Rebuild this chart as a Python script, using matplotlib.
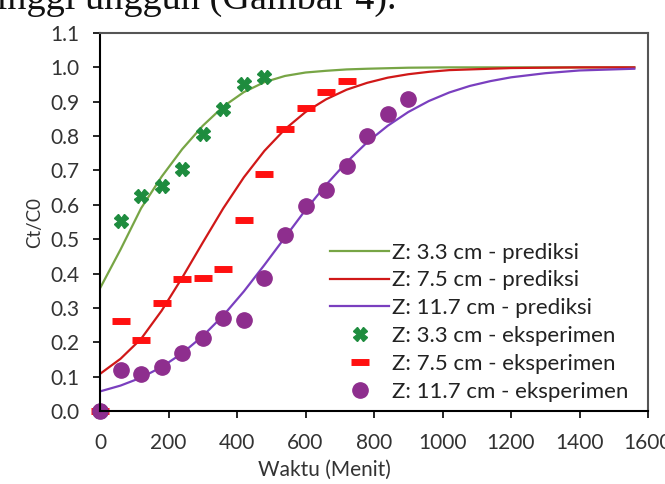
import matplotlib
matplotlib.use("Agg")
import matplotlib.pyplot as plt

# prediction curves
t_pred_g = [0, 60, 120, 180, 240, 300, 360, 420, 480, 540, 600, 660, 720, 780, 900, 1020, 1200, 1400, 1560]
y_pred_g = [0.357, 0.470, 0.590, 0.682, 0.762, 0.830, 0.886, 0.928, 0.957, 0.975, 0.985, 0.990, 0.994, 0.996, 0.999, 1.0, 1.0, 1.0, 1.0]

t_pred_r = [0, 60, 120, 180, 240, 300, 360, 420, 480, 540, 600, 660, 720, 780, 840, 900, 960, 1020, 1200, 1400, 1560]
y_pred_r = [0.108, 0.152, 0.210, 0.292, 0.388, 0.490, 0.590, 0.680, 0.757, 0.820, 0.870, 0.907, 0.935, 0.955, 0.970, 0.980, 0.987, 0.992, 0.998, 1.0, 1.0]

t_pred_p = [0, 60, 120, 180, 240, 300, 360, 420, 480, 540, 600, 660, 720, 780, 840, 900, 960, 1020, 1080, 1140, 1200, 1300, 1400, 1560]
y_pred_p = [0.057, 0.074, 0.097, 0.128, 0.168, 0.218, 0.278, 0.348, 0.425, 0.505, 0.585, 0.658, 0.724, 0.782, 0.830, 0.870, 0.902, 0.927, 0.946, 0.960, 0.971, 0.983, 0.991, 0.996]

# experimental points
t_exp_g = [0, 60, 120, 180, 240, 300, 360, 420, 480]
y_exp_g = [0, 0.552, 0.626, 0.654, 0.705, 0.807, 0.880, 0.951, 0.972]

t_exp_r = [0, 60, 120, 180, 240, 300, 360, 420, 480, 540, 600, 660, 720]
y_exp_r = [0, 0.262, 0.206, 0.315, 0.383, 0.388, 0.412, 0.557, 0.691, 0.820, 0.882, 0.927, 0.960]

t_exp_p = [0, 60, 120, 180, 240, 300, 360, 420, 480, 540, 600, 660, 720, 780, 840, 900]
y_exp_p = [0, 0.119, 0.108, 0.129, 0.170, 0.211, 0.271, 0.265, 0.386, 0.512, 0.596, 0.644, 0.714, 0.799, 0.865, 0.909]

x_ticks = [0, 200, 400, 600, 800, 1000, 1200, 1400, 1600]
y_ticks = [0.0, 0.1, 0.2, 0.3, 0.4, 0.5, 0.6, 0.7, 0.8, 0.9, 1.0, 1.1]

plt.rcParams['font.family'] = ['Lato', 'DejaVu Sans']

fig = plt.figure(figsize=(6.65, 4.84), dpi=100)
ax = fig.add_axes([100 / 665, 1 - 411 / 484, 548 / 665, 378 / 484])

ax.plot(t_pred_g, y_pred_g, color='#77A545', lw=1.6, label='Z: 3.3 cm - prediksi')
ax.plot(t_pred_r, y_pred_r, color='#D01818', lw=1.6, label='Z: 7.5 cm - prediksi')
ax.plot(t_pred_p, y_pred_p, color='#7A3FBF', lw=1.6, label='Z: 11.7 cm - prediksi')

ax.plot(t_exp_g, y_exp_g, ls='none', marker='X', ms=9.5, color='#1E8C3E', mec='#1E8C3E',
        clip_on=False, label='Z: 3.3 cm - eksperimen')
ax.plot(t_exp_r, y_exp_r, ls='none', marker='_', ms=13, mew=5, color='#FF1010',
        clip_on=False, label='Z: 7.5 cm - eksperimen')
ax.plot(t_exp_p, y_exp_p, ls='none', marker='o', ms=11, color='#8E2E8E', mec='#8E2E8E',
        clip_on=False, label='Z: 11.7 cm - eksperimen')

ax.set_xlim(0, 1600)
ax.set_ylim(0, 1.1)
ax.set_xticks(x_ticks)
ax.set_yticks(y_ticks)
ax.set_yticklabels([f'{v:.1f}' for v in y_ticks])
ax.tick_params(axis='both', direction='out', length=5, width=1.2, labelsize=15,
               colors='#000000', labelcolor='#333333')
ax.tick_params(axis='y', pad=10)
ax.tick_params(axis='x', pad=11)

for s in ['left', 'bottom']:
    ax.spines[s].set_color('#000000')
    ax.spines[s].set_linewidth(1.5)
for s in ['top', 'right']:
    ax.spines[s].set_color('#555555')
    ax.spines[s].set_linewidth(1.5)

fig.text(35 / 665, 1 - 222 / 484, 'Ct/C0', fontsize=13.5, color='#333333',
         rotation=90, ha='center', va='center')
fig.text(324 / 665, 1 - 470 / 484, 'Waktu (Menit)', fontsize=15, color='#333333',
         ha='center', va='center')

ax.legend(loc='lower right', bbox_to_anchor=(0.965, 0.025), frameon=False,
          fontsize=16, handlelength=2.65, handletextpad=0.15, labelspacing=0.35,
          borderaxespad=0, borderpad=0, labelcolor='#222222')

# cut-off line of the surrounding document text
fig.text(-14 / 665, 1 - 9 / 484, 'tinggi unggun (Gambar 4).', family='Liberation Serif',
         fontsize=27.5, color='#111111', ha='left', va='baseline')

fig.savefig('out.png', dpi=100)
